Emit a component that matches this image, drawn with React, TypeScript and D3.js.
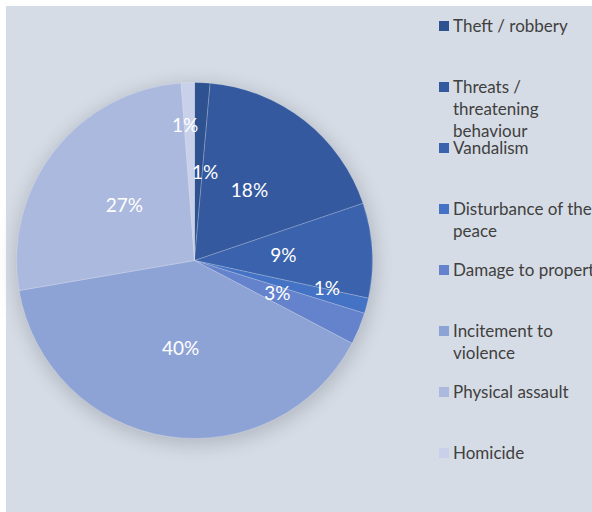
import React from "react";
import * as d3 from "d3";

const categories = [
  "Theft / robbery",
  "Threats / threatening behaviour",
  "Vandalism",
  "Disturbance of the peace",
  "Damage to property",
  "Incitement to violence",
  "Physical assault",
  "Homicide",
];
const values = [1.4, 18.4, 8.6, 1.4, 2.9, 39.6, 26.5, 1.2];
const legendLines = [
  ["Theft / robbery"],
  ["Threats /", "threatening", "behaviour"],
  ["Vandalism"],
  ["Disturbance of the", "peace"],
  ["Damage to property"],
  ["Incitement to", "violence"],
  ["Physical assault"],
  ["Homicide"],
];
const colors = ["#2E5190", "#34599F", "#3A62AD", "#4472C4", "#6483CC", "#8EA3D5", "#ABB9DE", "#C8D0EA"];
// label placement: radius fraction and angle nudge (degrees)
const labelLayout = [
  { r: 0.5, da: 4.3 },
  { r: 0.5, da: 0 },
  { r: 0.5, da: 0 },
  { r: 0.76, da: -2.7 },
  { r: 0.5, da: -1 },
  { r: 0.5, da: 0 },
  { r: 0.5, da: 0 },
  { r: 0.76, da: -1.8 },
];

const W = 592;
const H = 512;
const cx = 194.5;
const cy = 260.5;
const R = 178;
const FONT = "Lato, 'Open Sans', sans-serif";

export default function App() {
  const total = d3.sum(values);
  const pie = d3.pie<number>().sort(null).value((d) => d);
  const arcs = pie(values);
  const arcGen = d3.arc<d3.PieArcDatum<number>>().innerRadius(0).outerRadius(R);
  const fmt = d3.format(".0%");

  const legendY = d3.scalePoint<number>().domain(d3.range(categories.length)).range([26, 453]);

  return (
    <svg width={W} height={H} style={{ position: "absolute", left: 0, top: 0, display: "block" }}>
      <defs>
        <filter id="shadow" x="-30%" y="-30%" width="160%" height="160%">
          <feGaussianBlur stdDeviation="9" />
        </filter>
        <clipPath id="clip">
          <rect x={0} y={0} width={W} height={H} />
        </clipPath>
      </defs>
      <rect x={0} y={0} width={W} height={H} fill="#ffffff" />
      <rect x={6} y={6} width={W - 6} height={H - 6} fill="#D6DCE5" />
      <circle cx={cx + 1} cy={cy + 4} r={R + 3} fill="#8a909a" opacity={0.45} filter="url(#shadow)" />
      <g transform={`translate(${cx},${cy})`}>
        {arcs.map((a, i) => (
          <path key={i} d={arcGen(a) || ""} fill={colors[i]} stroke="#ffffff" strokeOpacity={0.35} strokeWidth={0.6} />
        ))}
        {arcs.map((a, i) => {
          const mid = (a.startAngle + a.endAngle) / 2 + (labelLayout[i].da * Math.PI) / 180;
          const r = R * labelLayout[i].r;
          const x = Math.sin(mid) * r;
          const y = -Math.cos(mid) * r;
          return (
            <text
              key={i}
              x={x}
              y={y}
              dy="0.35em"
              textAnchor="middle"
              fill="#ffffff"
              fontFamily={FONT}
              fontSize={19}
            >
              {fmt(a.data / total)}
            </text>
          );
        })}
      </g>
      <g clipPath="url(#clip)">
        {categories.map((c, i) => {
          const y = legendY(i)!;
          return (
            <g key={c}>
              <rect x={439} y={y - 5} width={10} height={10} fill={colors[i]} />
              {legendLines[i].map((line, j) => (
                <text
                  key={j}
                  x={453}
                  y={y + j * 22}
                  dy="0.35em"
                  fill="#404040"
                  fontFamily={FONT}
                  fontSize={17}
                >
                  {line}
                </text>
              ))}
            </g>
          );
        })}
      </g>
    </svg>
  );
}
